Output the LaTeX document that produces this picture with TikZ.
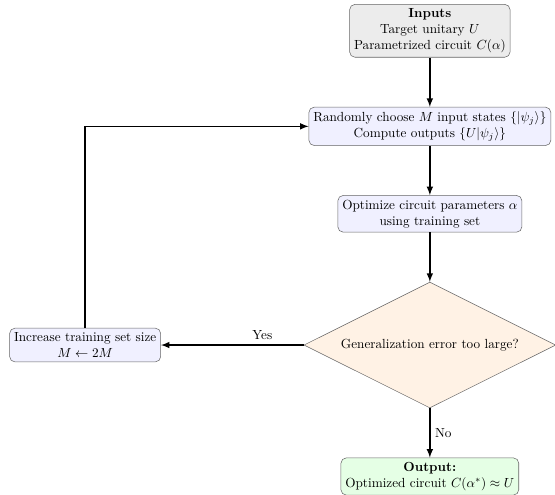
\documentclass[tikz,border=0pt]{standalone}
\usepackage{amsmath,amssymb}
\usepackage{tikz}
\usetikzlibrary{positioning,arrows.meta,shapes.geometric}

\begin{document}
\begin{tikzpicture}[>=latex,node distance=13.15mm]
\tikzstyle{inbox}=[draw=black!60,rounded corners,fill=gray!15,align=center]
\tikzstyle{proc}=[draw=black!60,rounded corners,fill=blue!6,align=center]
\tikzstyle{decide}=[diamond,aspect=2,draw=black!60,fill=orange!10,align=center,
  minimum width=67mm,minimum height=33.5mm,inner sep=1pt]
\tikzstyle{outbox}=[draw=black!60,rounded corners,fill=green!10,align=center]
\tikzstyle{flow}=[->,very thick]

\useasboundingbox (-114.4mm,8.2mm) rectangle (33.3mm,-123.4mm);

\node[inbox] (inputs) {\textbf{Inputs}\\ Target unitary $U$\\ Parametrized circuit $C(\alpha)$};
\node[proc,below=of inputs] (sample)
  {Randomly choose $M$ input states $\{|\psi_j\rangle\}$\\ Compute outputs $\{U|\psi_j\rangle\}$};
\node[proc,below=of sample] (optim) {Optimize circuit parameters $\alpha$\\ using training set};
\node[decide,below=of optim] (check) {Generalization error too large?};
\node[proc,left=38mm of check] (grow) {Increase training set size\\ $M \leftarrow 2M$};
\node[outbox,below=of check] (result) {\textbf{Output:}\\ Optimized circuit $C(\alpha^*) \approx U$};

\draw[flow] (inputs) -- (sample);
\draw[flow] (sample) -- (optim);
\draw[flow] (optim) -- (check);
\draw[flow] (check) -- node[above,pos=0.29] {Yes} (grow);
\draw[flow] (check) -- node[right] {No} (result);
\draw[flow] (grow.north) |- (sample.west);
\end{tikzpicture}
\end{document}
